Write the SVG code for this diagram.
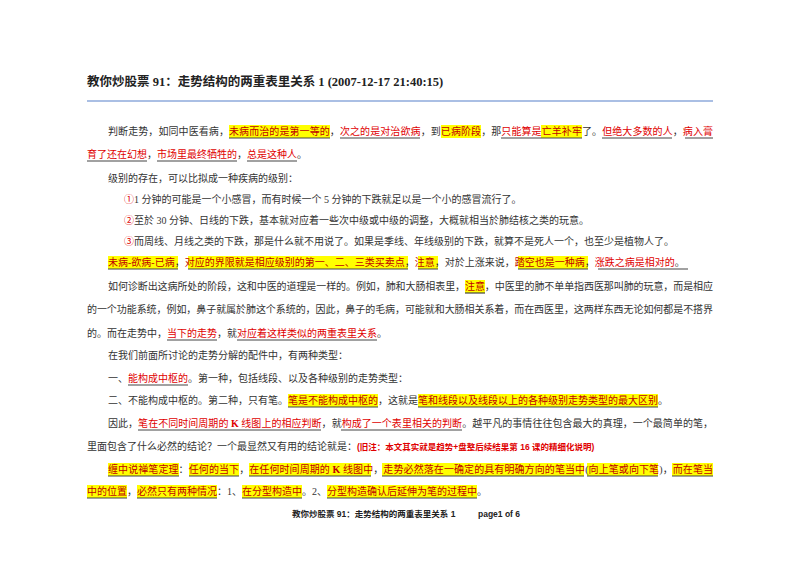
<svg xmlns="http://www.w3.org/2000/svg" width="800" height="566" viewBox="0 0 800 566">
<style>
.t{font-family:"Liberation Serif","Noto Sans CJK SC",serif;font-size:10px;fill:#333}
.r{fill:#e00000}
.d{fill:#c00000}
.hl{fill:#ffff00}
.ul{stroke:#444;stroke-width:1.2}
.ttl{font-family:"Liberation Serif","Noto Sans CJK SC",serif;font-size:12.5px;font-weight:bold;fill:#222}
.ft{font-family:"Liberation Sans","Noto Sans CJK SC",sans-serif;font-size:8.5px;font-weight:bold;fill:#222}
</style>
<rect width="800" height="566" fill="#fff"/>
<g id="title">
<text class="ttl" x="87" y="86">教你炒股票 91：走势结构的两重表里关系 1 (2007-12-17 21:40:15)</text>
<line x1="87" y1="101" x2="713" y2="101" stroke="#8eaadb" stroke-width="1.5"/>
</g>
<g id="p1">
<rect class="hl" x="229" y="125" width="101" height="13"/>
<rect class="hl" x="441" y="125" width="40" height="13"/>
<rect class="hl" x="541" y="125" width="41" height="13"/>
<text class="t" x="108" y="135" textLength="605" lengthAdjust="spacing">判断走势，如同中医看病，<tspan class="d">未病而治的是第一等的</tspan>，<tspan class="r">次之的是对治欲病</tspan>，到<tspan class="d">已病阶段</tspan>，那<tspan class="r">只能算是</tspan><tspan class="d">亡羊补牢</tspan>了。<tspan class="r">但绝大多数的人</tspan>，<tspan class="r">病入膏</tspan></text>
<path class="ul" d="M229 138H330M340 138H420M501 138H582M602 138H672M685 138H713"/>
<text class="t" x="87" y="158"><tspan class="r">育了还在幻想</tspan>，<tspan class="r">市场里最终牺牲的</tspan>，<tspan class="r">总是这种人</tspan>。</text>
<path class="ul" d="M87 161H147M157 161H237M247 161H297"/>
</g>
<g id="p2">
<text class="t" x="108" y="182">级别的存在，可以比拟成一种疾病的级别：</text>
<text class="t" x="124" y="203"><tspan class="r">①</tspan>1 分钟的可能是一个小感冒，而有时候一个 5 分钟的下跌就足以是一个小的感冒流行了。</text>
<text class="t" x="124" y="224"><tspan class="r">②</tspan>至於 30 分钟、日线的下跌，基本就对应着一些次中级或中级的调整，大概就相当於肺结核之类的玩意。</text>
<text class="t" x="124" y="245"><tspan class="r">③</tspan>而周线、月线之类的下跌，那是什么就不用说了。如果是季线、年线级别的下跌，就算不是死人一个，也至少是植物人了。</text>
</g>
<g id="p3">
<rect class="hl" x="108" y="256" width="70" height="13"/>
<rect class="hl" x="188" y="256" width="220" height="13"/>
<rect class="hl" x="418" y="256" width="20" height="13"/>
<rect class="hl" x="518" y="256" width="70" height="13"/>
<text class="t" x="108" y="266"><tspan class="d">未病-欲病-已病</tspan>，<tspan class="d">对应的界限就是相应级别的第一、二、三类买卖点</tspan>，<tspan class="d">注意</tspan>，对於上涨来说，<tspan class="d">踏空也是一种病</tspan>，<tspan class="r">涨跌之病是相对的</tspan>。</text>
<path class="ul" d="M108 269H178M188 269H408M418 269H438M518 269H588M598 269H688"/>
</g>
<g id="p4">
<rect class="hl" x="465" y="280" width="20" height="13"/>
<text class="t" x="108" y="290" textLength="605" lengthAdjust="spacing">如何诊断出这病所处的阶段，这和中医的道理是一样的。例如，肺和大肠相表里，<tspan class="d">注意</tspan>，中医里的肺不单单指西医那叫肺的玩意，而是相应</text>
<path class="ul" d="M465 293H485"/>
<text class="t" x="87" y="313" textLength="626" lengthAdjust="spacing">的一个功能系统，例如，鼻子就属於肺这个系统的，因此，鼻子的毛病，可能就和大肠相关系着，而在西医里，这两样东西无论如何都是不搭界</text>
<text class="t" x="87" y="337">的。而在走势中，<tspan class="r">当下的走势</tspan>，就<tspan class="r">对应着这样类似的两重表里关系</tspan>。</text>
<path class="ul" d="M167 340H217M237 340H377"/>
</g>
<g id="p5">
<text class="t" x="108" y="359">在我们前面所讨论的走势分解的配件中，有两种类型：</text>
<text class="t" x="108" y="382">一、<tspan class="r">能构成中枢的</tspan>。第一种，包括线段、以及各种级别的走势类型：</text>
<path class="ul" d="M128 385H188"/>
<rect class="hl" x="288" y="394" width="90" height="13"/>
<rect class="hl" x="418" y="394" width="240" height="13"/>
<text class="t" x="108" y="404">二、不能构成中枢的。第二种，只有笔。<tspan class="d">笔是不能构成中枢的</tspan>，这就是<tspan class="d">笔和线段以及线段以上的各种级别走势类型的最大区别</tspan>。</text>
<path class="ul" d="M288 407H378M418 407H658"/>
</g>
<g id="p6">
<text class="t" x="108" y="427" textLength="605" lengthAdjust="spacing">因此，<tspan class="r">笔在不同时间周期的 <tspan font-weight="bold">K</tspan> 线图上的相应判断</tspan>，就<tspan class="r">构成了一个表里相关的判断</tspan>。越平凡的事情往往包含最大的真理，一个最简单的笔，</text>
<path class="ul" d="M138 430H321M341 430H462"/>
<text class="t" x="87" y="450">里面包含了什么必然的结论？一个最显然又有用的结论就是：<tspan class="r" font-size="8.5" font-weight="bold" font-family="Liberation Sans, Noto Sans CJK SC, sans-serif">(旧注：本文其实就是趋势+盘整后续结果第 16 课的精细化说明)</tspan></text>
</g>
<g id="p7">
<rect class="hl" x="108" y="463" width="71" height="13"/>
<rect class="hl" x="189" y="463" width="50" height="13"/>
<rect class="hl" x="249" y="463" width="122" height="13"/>
<rect class="hl" x="382" y="463" width="202" height="13"/>
<rect class="hl" x="587" y="463" width="71" height="13"/>
<rect class="hl" x="672" y="463" width="41" height="13"/>
<text class="t" x="108" y="473" textLength="605" lengthAdjust="spacing"><tspan class="d">缠中说禅笔定理</tspan>：<tspan class="d">任何的当下</tspan>，<tspan class="d">在任何时间周期的 <tspan font-weight="bold">K</tspan> 线图中</tspan>，<tspan class="d">走势必然落在一确定的具有明确方向的笔当中</tspan>(<tspan class="d">向上笔或向下笔</tspan>)，<tspan class="d">而在笔当</tspan></text>
<path class="ul" d="M108 476H179M189 476H239M249 476H371M382 476H584M587 476H658M672 476H713"/>
<rect class="hl" x="87" y="485" width="40" height="13"/>
<rect class="hl" x="137" y="485" width="80" height="13"/>
<rect class="hl" x="242" y="485" width="60" height="13"/>
<rect class="hl" x="327" y="485" width="150" height="13"/>
<text class="t" x="87" y="495"><tspan class="d">中的位置</tspan>，<tspan class="d">必然只有两种情况</tspan>：1、<tspan class="d">在分型构造中</tspan>。2、<tspan class="d">分型构造确认后延伸为笔的过程中</tspan>。</text>
<path class="ul" d="M87 498H127M137 498H217M242 498H302M327 498H477"/>
</g>
<g id="footer">
<text class="ft" x="292" y="517">教你炒股票 91：走势结构的两重表里关系 1</text>
<text class="ft" x="478" y="517">page1 of 6</text>
</g>
</svg>
